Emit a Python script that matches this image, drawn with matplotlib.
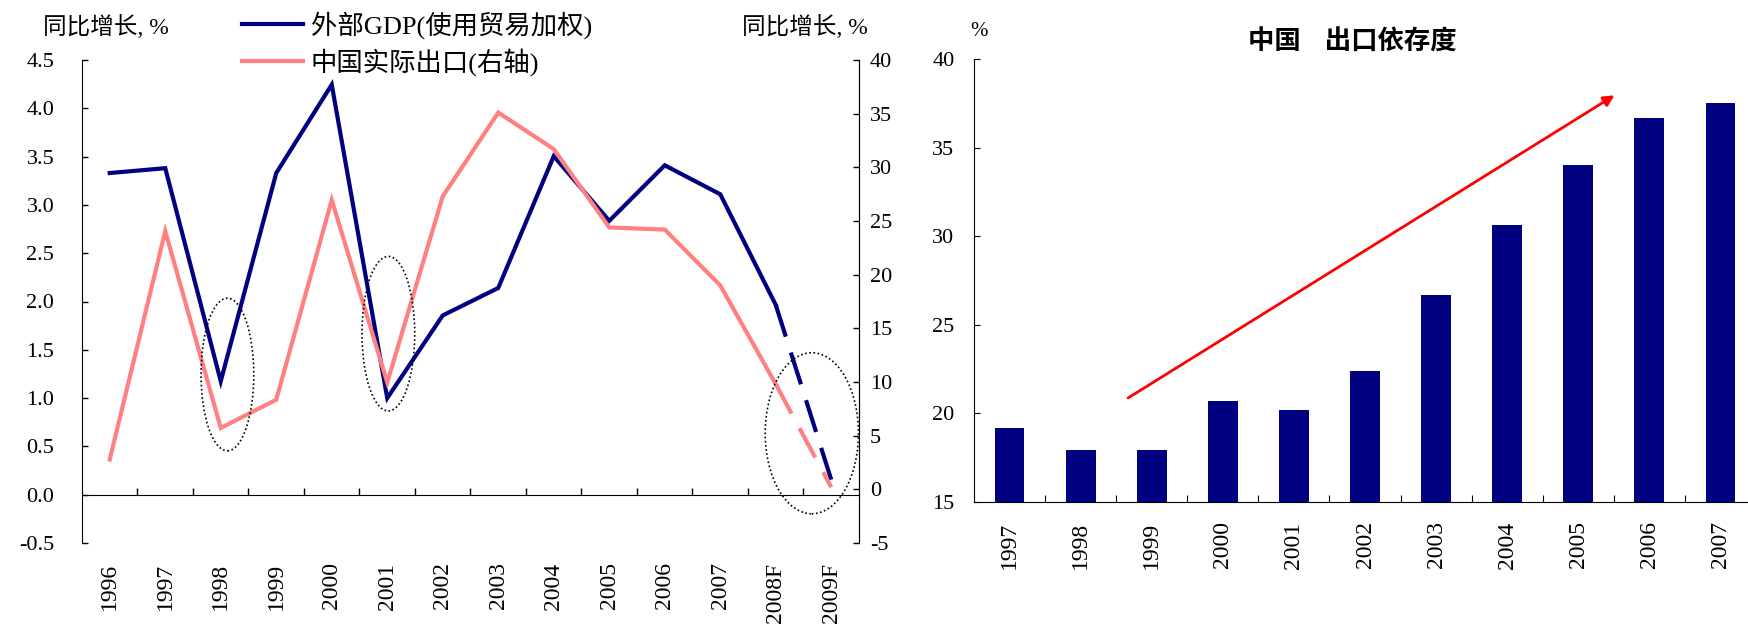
import matplotlib
matplotlib.use("Agg")
import matplotlib.pyplot as plt
from matplotlib.patches import Ellipse

plt.rcParams["font.family"] = ["Liberation Serif", "Noto Sans CJK SC"]
plt.rcParams["axes.unicode_minus"] = False

# left chart data
years_l = ["1996", "1997", "1998", "1999", "2000", "2001", "2002", "2003",
           "2004", "2005", "2006", "2007", "2008F", "2009F"]
gdp_ext = [3.33, 3.38, 1.175, 3.33, 4.245, 1.00, 1.856, 2.14, 3.505, 2.835,
           3.41, 3.11, 1.965, 0.155]
export_cn = [2.78, 24.06, 5.72, 8.35, 26.96, 9.96, 27.3, 35.1, 31.7, 24.4,
             24.2, 19.0, 9.8, 0.2]

# right chart data
years_r = ["1997", "1998", "1999", "2000", "2001", "2002", "2003", "2004",
           "2005", "2006", "2007"]
export_dep = [19.19, 17.96, 17.96, 20.71, 20.17, 22.40, 26.68, 30.64,
              34.01, 36.65, 37.50]

# dotted circles (center x, center y on left axis, width, height)
circles = [(2.12, 1.244, 0.95, 1.58), (5.02, 1.667, 0.95, 1.6),
           (12.65, 0.636, 1.68, 1.667)]

BLUE = "#000080"
PINK = "#FF8080"
W, H = 1749, 634

fig = plt.figure(figsize=(W / 100, H / 100), dpi=100)

# ---------------- left chart ----------------
ax = fig.add_axes([82 / W, 91 / H, 777 / W, 483 / H])
ax2 = ax.twinx()

x = list(range(len(years_l)))
n_solid = 13
l1, = ax.plot(x[:n_solid], gdp_ext[:n_solid], color=BLUE, lw=3,
              solid_joinstyle="miter")
ax.plot(x[n_solid - 1:], gdp_ext[n_solid - 1:], color=BLUE, lw=3,
        dashes=(8, 4))
l2, = ax2.plot(x[:n_solid], export_cn[:n_solid], color=PINK, lw=3,
               solid_joinstyle="miter")
ax2.plot(x[n_solid - 1:], export_cn[n_solid - 1:], color=PINK, lw=3,
         dashes=(8, 4))

ax.set_xlim(-0.5, len(years_l) - 0.5)
ax.set_ylim(-0.5, 4.5)
ax2.set_ylim(-5, 40)
ax.set_yticks([i * 0.5 - 0.5 for i in range(11)])
ax.set_yticklabels([f"{i * 0.5 - 0.5:.1f}" for i in range(11)])
ax2.set_yticks(list(range(-5, 41, 5)))

for a in (ax, ax2):
    a.spines["top"].set_visible(False)
    a.spines["bottom"].set_visible(False)
ax.spines["bottom"].set_visible(True)
ax.spines["bottom"].set_position(("data", 0))
ax2.spines["left"].set_visible(False)

ax.set_xticks([i + 0.5 for i in range(len(years_l) - 1)])
ax.set_xticklabels([])
ax.tick_params(axis="x", direction="in", length=5, width=1)
ax.tick_params(axis="y", direction="in", length=4, width=1, labelsize=16,
               pad=20)
ax2.tick_params(axis="y", direction="in", length=4, width=1, labelsize=16,
                pad=8)

sec = ax.secondary_xaxis("bottom")
sec.set_xticks(x)
sec.set_xticklabels(years_l, rotation=90, fontsize=17)
sec.tick_params(length=0, pad=14)
sec.spines["bottom"].set_visible(False)

for cx, cy, w, h in circles:
    ax2.add_patch(Ellipse((cx, cy), w, h, transform=ax.transData, fill=False,
                          ec="black", ls=(0, (1, 1.5)), lw=1.2, zorder=5,
                          clip_on=False))

ax.legend([l1, l2], ["外部GDP(使用贸易加权)", "中国实际出口(右轴)"],
          loc="upper left", bbox_to_anchor=(242 / W, 1 - 11 / H),
          bbox_transform=fig.transFigure, frameon=False, fontsize=19,
          borderpad=0, borderaxespad=0, handlelength=2.3, handletextpad=0.3,
          labelspacing=0.35)

fig.text(43 / W, 1 - 27 / H, "同比增长, %", fontsize=17, va="center",
         ha="left")
fig.text(742 / W, 1 - 27 / H, "同比增长, %", fontsize=17, va="center",
         ha="left")

# ---------------- right chart ----------------
ax3 = fig.add_axes([974 / W, 132 / H, 782 / W, 443 / H])
xr = list(range(len(years_r)))
ax3.bar(xr, export_dep, width=0.42, color=BLUE, bottom=0)
ax3.set_xlim(-0.5, len(years_r) - 0.5)
ax3.set_ylim(15, 40)
ax3.set_yticks(list(range(15, 41, 5)))
ax3.spines["top"].set_visible(False)
ax3.spines["right"].set_visible(False)
ax3.set_xticks([i + 0.5 for i in range(len(years_r) - 1)])
ax3.set_xticklabels([])
ax3.set_xticks(xr, minor=True)
ax3.set_xticklabels(years_r, minor=True, rotation=90, fontsize=17)
ax3.tick_params(axis="x", which="major", direction="in", length=5)
ax3.tick_params(axis="x", which="minor", length=0, pad=14)
ax3.tick_params(axis="y", direction="in", length=4, labelsize=16, pad=14)

ax3.annotate("", xy=(8.51, 37.95), xytext=(1.667, 20.87),
             arrowprops=dict(arrowstyle="-|>", color="red", lw=2,
                             mutation_scale=16, shrinkA=0, shrinkB=0))

fig.text(1352 / W, 1 - 42 / H, "中国    出口依存度", fontsize=19,
         fontweight="bold", ha="center", va="center",
         family=["Noto Sans CJK SC", "DejaVu Sans"])
fig.text(970 / W, 1 - 31 / H, "%", fontsize=15, ha="left", va="center")

fig.savefig("out.png", dpi=100)
